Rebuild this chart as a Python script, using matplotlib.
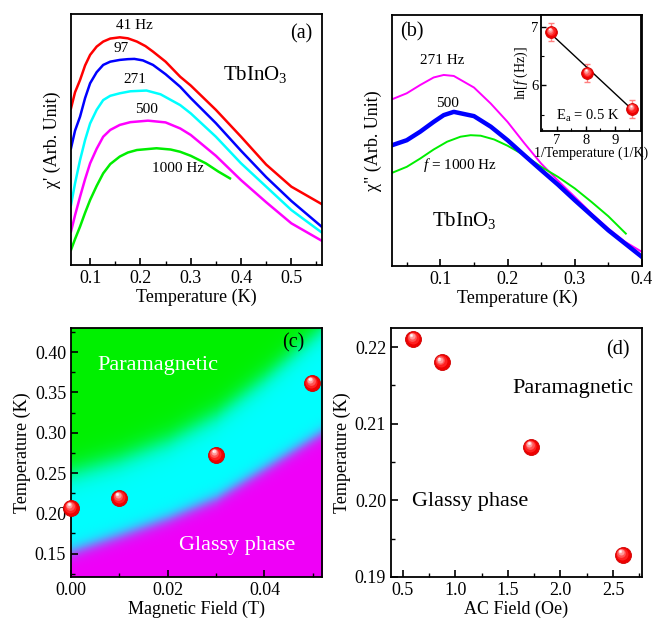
import numpy as np
import matplotlib
matplotlib.use('Agg')
import matplotlib.pyplot as plt
from matplotlib.transforms import ScaledTranslation
from matplotlib.ticker import MultipleLocator, FormatStrFormatter
from matplotlib.colors import to_rgb

plt.rcParams['font.family'] = ['Liberation Serif', 'DejaVu Serif']
plt.rcParams['mathtext.fontset'] = 'custom'
plt.rcParams['mathtext.rm'] = 'Liberation Serif'
plt.rcParams['mathtext.it'] = 'Liberation Serif:italic'
plt.rcParams['axes.linewidth'] = 1.3

# ---- panel (a): chi' vs T, arbitrary units (0..100)
a_T_41 = [0.062, 0.07, 0.08, 0.09, 0.1, 0.113, 0.126, 0.14, 0.159, 0.175, 0.193,
          0.21, 0.225, 0.25, 0.279, 0.3, 0.35, 0.4, 0.45, 0.5, 0.56]
a_v_41 = [62.4, 68.8, 73.7, 79.5, 83.7, 87.0, 89.0, 90.2, 90.7, 90.3, 89.0,
          87.2, 85.0, 81.0, 75.0, 71.5, 61.8, 51.1, 40.0, 31.2, 24.3]
a_T_97 = [0.062, 0.07, 0.08, 0.09, 0.1, 0.113, 0.126, 0.14, 0.159, 0.175, 0.188,
          0.205, 0.225, 0.25, 0.279, 0.3, 0.35, 0.4, 0.45, 0.5, 0.56]
a_v_97 = [46.5, 53.5, 59.1, 66.5, 72.4, 76.8, 79.7, 81.0, 81.7, 82.0, 82.1,
          81.5, 79.7, 76.0, 71.0, 66.5, 56.5, 45.5, 35.0, 25.5, 15.3]
a_T_271 = [0.062, 0.07, 0.08, 0.09, 0.1, 0.113, 0.126, 0.14, 0.159, 0.18, 0.212,
           0.24, 0.279, 0.3, 0.35, 0.4, 0.45, 0.5, 0.56]
a_v_271 = [23.9, 32.5, 41.8, 49.8, 56.4, 61.8, 65.7, 67.4, 68.4, 69.2, 69.5,
           68.0, 63.7, 60.4, 51.1, 40.5, 31.2, 21.9, 13.0]
a_T_500 = [0.062, 0.07, 0.08, 0.09, 0.1, 0.113, 0.126, 0.14, 0.159, 0.18, 0.215,
           0.25, 0.279, 0.3, 0.35, 0.4, 0.45, 0.5, 0.56]
a_v_500 = [13.3, 19.8, 27.2, 34.2, 40.5, 46.3, 51.1, 53.8, 55.8, 56.9, 57.5,
           56.8, 54.4, 51.8, 43.5, 33.8, 25.0, 16.6, 9.7]
a_T_1000 = [0.062, 0.07, 0.08, 0.09, 0.1, 0.113, 0.126, 0.14, 0.159, 0.175, 0.193,
            0.232, 0.26, 0.279, 0.3, 0.33, 0.355, 0.378]
a_v_1000 = [6.0, 10.3, 15.3, 20.8, 25.9, 31.5, 36.5, 40.2, 43.2, 44.8, 45.8,
            46.5, 46.0, 45.1, 43.5, 40.5, 37.2, 34.5]

# ---- panel (b): chi'' vs T, arbitrary units (0..100)
b_T = [0.028, 0.05, 0.07, 0.09, 0.105, 0.12, 0.15, 0.175, 0.2, 0.225, 0.25,
       0.275, 0.3, 0.325, 0.35, 0.375, 0.4]
b_v_271 = [66.4, 68.8, 72.1, 75.1, 76.1, 75.7, 71.1, 64.7, 57.4, 48.9, 40.8,
           34.0, 27.5, 20.9, 14.9, 9.6, 5.6]
b_v_500 = [48.1, 50.1, 53.5, 57.4, 60.1, 61.4, 59.7, 55.5, 50.1, 44.1, 38.2,
           32.4, 26.2, 20.2, 14.2, 8.9, 3.6]
b_T_1000 = [0.028, 0.05, 0.07, 0.09, 0.11, 0.13, 0.145, 0.16, 0.18, 0.2, 0.225,
            0.25, 0.275, 0.3, 0.325, 0.35, 0.376]
b_v_1000 = [37.1, 39.5, 42.8, 46.4, 49.5, 51.5, 52.1, 51.9, 50.4, 47.9, 44.1,
            39.5, 35.5, 30.9, 25.5, 19.8, 12.9]

# inset: Arrhenius
inv_T = [6.8, 8.05, 9.6]
ln_f = [6.91, 6.21, 5.60]
ln_f_err = [0.15, 0.15, 0.15]
fit_x = [6.8, 9.6]
fit_y = [6.875, 5.583]

# ---- panel (c): phase diagram H-T
c_H = [0.0, 0.0100, 0.0299, 0.0498]
c_T = [0.207, 0.2194, 0.2727, 0.362]
c_bound_H = [0.0, 0.01, 0.02, 0.03, 0.04, 0.052]
c_upper = [0.25, 0.267, 0.29, 0.322, 0.368, 0.43]
c_lower = [0.152, 0.172, 0.193, 0.218, 0.255, 0.30]

# ---- panel (d): T vs AC field
d_H = [0.601, 0.869, 1.72, 2.59]
d_T = [0.2211, 0.2180, 0.2070, 0.1929]


def ball(ax, xs, ys, ms=11.5):
    """Red shaded spheres."""
    fig = ax.figure
    ax.plot(xs, ys, 'o', ms=ms, mfc='#ee0000', mec='#d00000', mew=0.6,
            zorder=5, clip_on=False)
    steps = [(0.75, '#ff2020'), (0.55, '#ff5555'), (0.38, '#ff9999'),
             (0.22, '#ffdada'), (0.1, '#ffffff')]
    for frac, col in steps:
        off = (1 - frac) * ms / 72 * 0.28
        tr = ax.transData + ScaledTranslation(-off * 0.6, off, fig.dpi_scale_trans)
        ax.plot(xs, ys, 'o', ms=ms * frac, mfc=col, mec='none', transform=tr,
                zorder=6, clip_on=False)


def style(ax):
    ax.tick_params(direction='in', which='both', labelsize=13)
    ax.tick_params(which='major', length=5, width=1.2)
    ax.tick_params(which='minor', length=3, width=1.0)


fig = plt.figure(figsize=(6.52, 6.21), dpi=100)

# (a)
ax = fig.add_axes([0.1089, 0.5733, 0.385, 0.4042])
ax.plot(a_T_41, a_v_41, color='#ff0000', lw=1.8)
ax.plot(a_T_97, a_v_97, color='#0000ff', lw=1.8)
ax.plot(a_T_271, a_v_271, color='#00ffff', lw=1.8)
ax.plot(a_T_500, a_v_500, color='#ff00ff', lw=1.8)
ax.plot(a_T_1000, a_v_1000, color='#00ee00', lw=1.8)
ax.set_xlim(0.062, 0.561)
ax.set_ylim(0, 100)
ax.set_yticks([])
ax.xaxis.set_major_locator(MultipleLocator(0.1))
ax.xaxis.set_minor_locator(MultipleLocator(0.05))
style(ax)
ax.set_xlabel('Temperature (K)', fontsize=13, labelpad=1)
ax.set_ylabel("χ' (Arb. Unit)", fontsize=13, labelpad=7)
ax.text(0.188, 95.5, '41 Hz', fontsize=11, ha='center', va='center')
ax.text(0.1625, 86.3, '97', fontsize=11, ha='center', va='center')
ax.text(0.1895, 73.7, '271', fontsize=11, ha='center', va='center')
ax.text(0.2125, 61.8, '500', fontsize=11, ha='center', va='center')
ax.text(0.2755, 38.5, '1000 Hz', fontsize=11, ha='center', va='center')
ax.text(0.519, 92.2, '(a)', fontsize=14.5, ha='center', va='center')
ax.text(0.428, 76.0, 'TbInO$_3$', fontsize=15, ha='center', va='center')

# (b)
ax = fig.add_axes([0.6012, 0.5717, 0.3834, 0.4042])
ax.plot(b_T, b_v_271, color='#ff00ff', lw=1.4)
ax.plot(b_T_1000, b_v_1000, color='#00ee00', lw=1.4)
ax.plot(b_T, b_v_500, color='#0000ff', lw=3.2)
ax.set_xlim(0.028, 0.4)
ax.set_ylim(0, 100)
ax.set_yticks([])
ax.xaxis.set_major_locator(MultipleLocator(0.1))
ax.xaxis.set_minor_locator(MultipleLocator(0.05))
style(ax)
ax.set_xlabel('Temperature (K)', fontsize=13, labelpad=1)
ax.set_ylabel('χ" (Arb. Unit)', fontsize=13, labelpad=7)
ax.text(0.103, 82.0, '271 Hz', fontsize=11, ha='center', va='center')
ax.text(0.111, 64.8, '500', fontsize=11, ha='center', va='center')
ax.text(0.1285, 40.2, '$\\mathit{f}$ = 1000 Hz', fontsize=11, ha='center', va='center')
ax.text(0.135, 18.0, 'TbInO$_3$', fontsize=15, ha='center', va='center')
ax.text(0.058, 93.3, '(b)', fontsize=14.5, ha='center', va='center')

# inset
ins = fig.add_axes([0.8298, 0.789, 0.1534, 0.1868])
ins.errorbar(inv_T, ln_f, yerr=ln_f_err, fmt='none', ecolor='#ff8080',
             elinewidth=1.0, capsize=2.5, zorder=3)
ins.plot(fit_x, fit_y, color='black', lw=1.0, zorder=4)
ball(ins, inv_T, ln_f, ms=8.5)
ins.set_xlim(6.45, 9.9)
ins.set_ylim(5.22, 7.2)
ins.xaxis.set_major_locator(MultipleLocator(1))
ins.xaxis.set_minor_locator(MultipleLocator(0.5))
ins.yaxis.set_major_locator(MultipleLocator(1))
ins.yaxis.set_minor_locator(MultipleLocator(0.5))
ins.tick_params(direction='in', which='both', labelsize=10.5, pad=2)
ins.tick_params(which='major', length=3.5, width=1.0)
ins.tick_params(which='minor', length=2, width=0.8)
ins.set_xlabel('1/Temperature (1/K)', fontsize=10, labelpad=0)
ins.set_ylabel('ln[$\\mathit{f}$ (Hz)]', fontsize=10, labelpad=1)
ins.text(6.95, 5.48, 'E$_{\\rm a}$ = 0.5 K', fontsize=10.5, ha='left', va='center')

# (c)
ax = fig.add_axes([0.1089, 0.0709, 0.385, 0.401])
xlim_c = (0.0, 0.0519)
ylim_c = (0.121, 0.43)
gx = np.linspace(xlim_c[0], xlim_c[1], 300)
gy = np.linspace(ylim_c[0], ylim_c[1], 300)
GX, GY = np.meshgrid(gx, gy)
up = np.interp(GX, c_bound_H, c_upper)
lo = np.interp(GX, c_bound_H, c_lower)
s_lo = 1 / (1 + np.exp(-(GY - lo) / 0.005))
s_up = 1 / (1 + np.exp(-(GY - up) / 0.009))
mag = np.array(to_rgb('#f000f8'))
cya = np.array(to_rgb('#00ffff'))
grn = np.array(to_rgb('#00f000'))
img = (mag[None, None, :] * (1 - s_lo)[..., None]
       + cya[None, None, :] * (s_lo - s_up)[..., None]
       + grn[None, None, :] * s_up[..., None])
ax.imshow(np.clip(img, 0, 1), origin='lower', aspect='auto',
          extent=[xlim_c[0], xlim_c[1], ylim_c[0], ylim_c[1]], interpolation='bilinear')
ball(ax, c_H, c_T, ms=11.5)
ax.set_xlim(*xlim_c)
ax.set_ylim(*ylim_c)
ax.xaxis.set_major_locator(MultipleLocator(0.02))
ax.xaxis.set_minor_locator(MultipleLocator(0.01))
ax.yaxis.set_major_locator(MultipleLocator(0.05))
ax.yaxis.set_minor_locator(MultipleLocator(0.025))
ax.xaxis.set_major_formatter(FormatStrFormatter('%.2f'))
ax.yaxis.set_major_formatter(FormatStrFormatter('%.2f'))
style(ax)
ax.set_xlabel('Magnetic Field (T)', fontsize=13, labelpad=1)
ax.set_ylabel('Temperature (K)', fontsize=13, labelpad=3)
ax.text(0.018, 0.3835, 'Paramagnetic', color='white', fontsize=16,
        ha='center', va='center')
ax.text(0.0343, 0.160, 'Glassy phase', color='white', fontsize=16,
        ha='center', va='center')
ax.text(0.0459, 0.411, '(c)', fontsize=14.5, ha='center', va='center')

# (d)
ax = fig.add_axes([0.5997, 0.0709, 0.385, 0.401])
ball(ax, d_H, d_T, ms=11.5)
ax.set_xlim(0.389, 2.775)
ax.set_ylim(0.19, 0.2225)
ax.xaxis.set_major_locator(MultipleLocator(0.5))
ax.xaxis.set_minor_locator(MultipleLocator(0.25))
ax.yaxis.set_major_locator(MultipleLocator(0.01))
ax.yaxis.set_minor_locator(MultipleLocator(0.005))
ax.yaxis.set_major_formatter(FormatStrFormatter('%.2f'))
style(ax)
ax.set_xlabel('AC Field (Oe)', fontsize=13, labelpad=1)
ax.set_ylabel('Temperature (K)', fontsize=13, labelpad=3)
ax.text(2.12, 0.2146, 'Paramagnetic', fontsize=16, ha='center', va='center')
ax.text(1.14, 0.1998, 'Glassy phase', fontsize=16, ha='center', va='center')
ax.text(2.55, 0.2197, '(d)', fontsize=14.5, ha='center', va='center')

fig.savefig('out.png', dpi=100)
